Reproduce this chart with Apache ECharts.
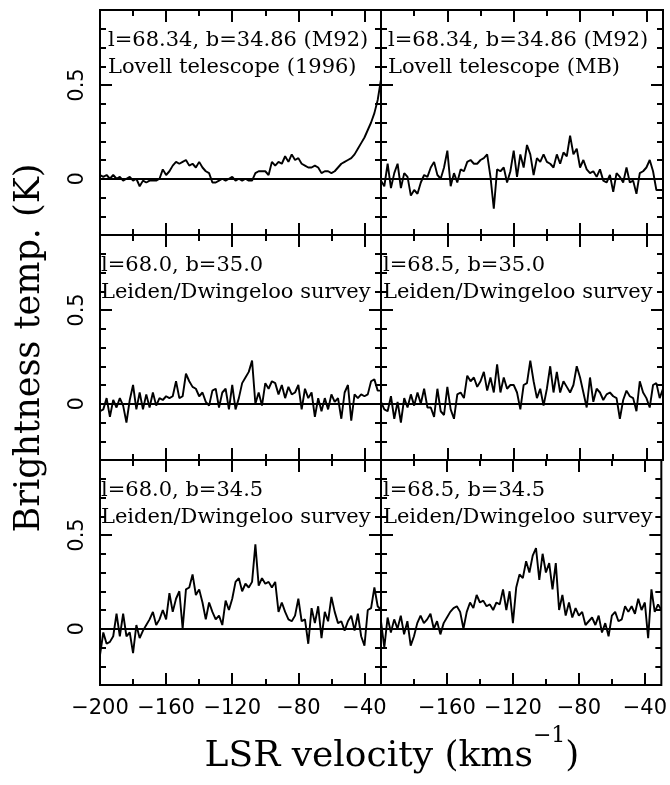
<!DOCTYPE html>
<html><head><meta charset="utf-8">
<script src="https://cdn.jsdelivr.net/npm/echarts@6/dist/echarts.min.js"></script>
<style>html,body{margin:0;padding:0;background:#fff}#c{width:670px;height:785px}</style>
</head><body><div id="c"></div>
<script>
// LSR velocity channels (km/s)
const velocity = [
-200,-198,-196,-194,-192,-190,-188,-186,-184,-182,
-180,-178,-176,-174,-172,-170,-168,-166,-164,-162,
-160,-158,-156,-154,-152,-150,-148,-146,-144,-142,
-140,-138,-136,-134,-132,-130,-128,-126,-124,-122,
-120,-118,-116,-114,-112,-110,-108,-106,-104,-102,
-100,-98,-96,-94,-92,-90,-88,-86,-84,-82,
-80,-78,-76,-74,-72,-70,-68,-66,-64,-62,
-60,-58,-56,-54,-52,-50,-48,-46,-44,-42,
-40,-38,-36,-34,-32,-30];

// Brightness temperature (K)
const lovell1996 = [
0.02,0.01,0.02,0.00,0.02,0.00,0.01,-0.01,0.00,0.01,
-0.01,0.00,-0.04,-0.01,-0.02,-0.01,-0.01,-0.01,0.00,0.05,
0.02,0.04,0.07,0.09,0.08,0.09,0.10,0.07,0.08,0.06,
0.09,0.06,0.04,0.03,-0.02,-0.02,-0.01,0.00,-0.01,0.00,
0.01,-0.01,0.00,-0.01,0.00,-0.01,-0.01,0.03,0.04,0.04,
0.04,0.02,0.09,0.07,0.09,0.08,0.12,0.09,0.13,0.10,
0.11,0.08,0.07,0.06,0.06,0.07,0.06,0.03,0.04,0.04,
0.03,0.04,0.06,0.08,0.09,0.10,0.11,0.13,0.16,0.19,
0.22,0.26,0.30,0.35,0.42,0.53];

const lovellMB = [
-0.01,-0.04,0.08,-0.05,0.03,0.08,-0.05,0.03,0.01,-0.09,
-0.06,-0.08,-0.02,0.02,0.01,0.06,0.09,0.02,0.00,0.06,
0.15,-0.04,0.03,-0.02,0.05,0.04,0.09,0.10,0.08,0.08,
0.10,0.11,0.13,0.01,-0.16,0.05,0.04,0.06,-0.02,0.04,
0.15,0.01,0.13,0.06,0.18,0.13,0.02,0.11,0.09,0.13,
0.09,0.08,0.06,0.13,0.08,0.14,0.12,0.23,0.13,0.16,
0.06,0.10,0.05,0.03,0.04,0.01,0.05,-0.01,-0.02,0.02,
-0.07,0.03,0.01,-0.02,0.06,-0.02,-0.01,-0.08,0.03,0.04,
0.06,0.10,0.04,-0.06,-0.06,-0.06];

const ld680_350 = [
-0.04,-0.03,0.03,-0.07,0.02,-0.02,0.03,-0.01,-0.10,0.02,
0.10,-0.03,0.06,-0.03,0.05,-0.02,0.06,-0.01,0.03,0.02,
0.04,0.03,0.04,0.12,0.03,0.04,0.16,0.12,0.09,0.08,
0.04,0.06,0.01,-0.01,0.07,0.08,-0.02,0.06,0.08,-0.03,
0.10,-0.03,0.03,0.11,0.14,0.17,0.23,0.00,0.06,-0.01,
0.11,0.08,0.12,0.11,0.05,0.10,0.03,0.09,0.05,0.06,
0.10,-0.03,0.08,0.03,0.06,-0.07,0.03,-0.04,0.03,-0.03,
0.05,0.01,0.03,-0.08,0.06,0.10,-0.09,0.05,0.03,0.05,
0.04,0.05,0.12,0.13,0.07,0.07];

const ld685_350 = [
0.01,-0.03,-0.04,0.04,-0.08,0.01,-0.10,0.03,-0.02,0.05,
-0.01,0.06,0.00,0.08,-0.02,-0.02,-0.07,0.08,-0.04,-0.06,
0.09,-0.03,-0.08,0.05,0.06,0.03,0.15,0.12,0.14,0.09,
0.12,0.17,0.07,0.14,0.06,0.21,0.06,0.14,0.08,0.10,
0.10,0.06,-0.03,0.10,0.11,0.23,0.12,0.03,0.08,-0.01,
0.08,0.20,0.06,0.17,0.06,0.12,0.09,0.06,0.10,0.20,
0.14,0.06,-0.02,0.14,0.01,0.08,0.06,0.02,0.05,0.06,
0.04,0.03,-0.08,0.02,0.07,0.04,0.03,-0.04,0.12,0.06,
0.03,-0.02,0.10,0.11,0.03,0.08];

const ld680_345 = [
-0.14,-0.02,-0.08,-0.07,-0.04,0.08,-0.04,0.08,-0.04,-0.02,
-0.13,0.02,-0.05,-0.01,0.02,0.05,0.09,0.02,0.05,0.10,
0.05,0.19,0.09,0.16,0.20,0.00,0.21,0.22,0.29,0.18,
0.21,0.14,0.05,0.14,0.09,0.05,0.07,0.02,0.15,0.10,
0.16,0.25,0.27,0.20,0.24,0.22,0.25,0.45,0.23,0.27,
0.24,0.25,0.22,0.25,0.09,0.14,0.09,0.05,0.04,0.07,
0.16,0.04,0.05,-0.08,0.11,0.03,0.12,-0.05,0.09,0.04,
0.17,0.09,0.03,0.04,-0.01,0.04,0.07,-0.01,0.08,-0.04,
-0.09,0.10,0.11,0.22,0.12,0.10];

const ld685_345 = [
0.04,-0.10,0.06,-0.02,0.05,0.00,0.07,-0.03,0.04,-0.09,
-0.04,0.03,0.07,0.03,0.05,0.08,0.00,0.04,-0.03,0.03,
0.06,0.09,0.11,0.12,0.09,0.00,0.09,0.14,0.11,0.18,
0.14,0.15,0.12,0.13,0.10,0.14,0.13,0.21,0.10,0.20,
0.03,0.22,0.29,0.27,0.36,0.30,0.39,0.43,0.26,0.40,
0.30,0.35,0.21,0.35,0.10,0.18,0.07,0.14,0.06,0.11,
0.07,0.09,0.02,0.04,0.06,0.02,0.07,-0.02,0.03,-0.04,
0.07,0.09,0.04,0.05,0.12,0.09,0.12,0.08,0.16,0.10,
0.14,-0.05,0.21,0.09,0.13,0.10];

// ticks and labels
const xMajorTicks = [-200,-160,-120,-80,-40];
const xMinorTicks = [-180,-140,-100,-60];
const yMajorTicks = [0, 0.5];
const yMinorTicks = [-0.2,-0.1,0.1,0.2,0.3,0.4,0.6,0.7,0.8];
const xLabelsLeft = [-200,-160,-120,-80,-40];
const xLabelsRight = [-160,-120,-80,-40];
const yLabels = [0, 0.5];

const panelLine1 = ['l=68.34, b=34.86 (M92)','l=68.34, b=34.86 (M92)','l=68.0, b=35.0','l=68.5, b=35.0','l=68.0, b=34.5','l=68.5, b=34.5'];
const panelLine2 = ['Lovell telescope (1996)','Lovell telescope (MB)','Leiden/Dwingeloo survey','Leiden/Dwingeloo survey','Leiden/Dwingeloo survey','Leiden/Dwingeloo survey'];
const xTitle = 'LSR velocity (kms';
const xTitleSup = '−1';
const yTitle = 'Brightness temp. (K)';

const panels = [lovell1996, lovellMB, ld680_350, ld685_350, ld680_345, ld685_345];

// layout
const colLeft = [100, 381], colW = [281, 282];
const rowTop = [10, 235, 460], rowH = 225;
const tickFont = 'DejaVu Sans';
const serif = 'DejaVu Serif';

const grids = [], xAxes = [], yAxes = [], series = [], graphics = [];
const fmt = v => String(v).replace('-', '\u2212');

panels.forEach((vals, g) => {
  const col = g % 2, row = Math.floor(g / 2);
  grids.push({left: colLeft[col], top: rowTop[row], width: colW[col], height: rowH,
    show: true, borderColor: '#000', borderWidth: 2, backgroundColor: 'transparent'});
  const mkX = (pos, ticks, len, labels) => ({
    gridIndex: g, type: 'value', min: -200, max: -30, position: pos,
    axisLine: {show: false, onZero: false}, splitLine: {show: false},
    axisTick: {show: true, inside: true, length: len, customValues: ticks, lineStyle: {color: '#000', width: 2}},
    axisLabel: labels ? {show: true, customValues: labels, formatter: fmt, color: '#000',
      fontSize: 21, fontFamily: tickFont, margin: 13} : {show: false}
  });
  xAxes.push(mkX('bottom', xMajorTicks, 12, row === 2 ? (col === 0 ? xLabelsLeft : xLabelsRight) : null));
  xAxes.push(mkX('bottom', xMinorTicks, 6, null));
  xAxes.push(mkX('top', xMajorTicks, 12, null));
  xAxes.push(mkX('top', xMinorTicks, 6, null));
  const mkY = (pos, ticks, len, labels) => ({
    gridIndex: g, type: 'value', min: -0.3, max: 0.9, position: pos,
    axisLine: {show: false, onZero: false}, splitLine: {show: false},
    axisTick: {show: true, inside: true, length: len, customValues: ticks, lineStyle: {color: '#000', width: 2}},
    axisLabel: labels ? {show: true, customValues: labels, formatter: v => String(v), rotate: 90,
      color: '#000', fontSize: 21, fontFamily: tickFont, margin: 12} : {show: false}
  });
  yAxes.push(mkY('left', yMajorTicks, 12, col === 0 ? yLabels : null));
  yAxes.push(mkY('left', yMinorTicks, 6, null));
  yAxes.push(mkY('right', yMajorTicks, 12, null));
  yAxes.push(mkY('right', yMinorTicks, 6, null));
  series.push({
    type: 'line', xAxisIndex: 4 * g, yAxisIndex: 4 * g,
    data: velocity.map((v, i) => [v, vals[i]]),
    showSymbol: false, symbol: 'none', clip: true,
    lineStyle: {color: '#000', width: 1.9}, z: 3,
    markLine: {silent: true, symbol: ['none', 'none'], label: {show: false},
      lineStyle: {color: '#000', width: 1.8, type: 'solid'}, data: [{yAxis: 0}]}
  });
  const tx = col === 0 ? (row === 0 ? 108 : 101) : (row === 0 ? 388 : 383);
  graphics.push({type: 'text', x: tx, y: rowTop[row] + 31, style: {text: panelLine1[g], fill: '#000',
    fontSize: 21, fontFamily: serif, align: 'left', verticalAlign: 'middle'}, z: 10});
  graphics.push({type: 'text', x: tx, y: rowTop[row] + 58, style: {text: panelLine2[g], fill: '#000',
    fontSize: 21, fontFamily: serif, align: 'left', verticalAlign: 'middle'}, z: 10});
});

graphics.push({type: 'text', x: 30, y: 348, rotation: Math.PI / 2,
  style: {text: yTitle, fill: '#000', fontSize: 35, fontFamily: serif, align: 'center', verticalAlign: 'middle'}});
graphics.push({type: 'text', x: 392, y: 750,
  style: {text: '{a|' + xTitle + '}{s|' + xTitleSup + '}{a|)}', fill: '#000', align: 'center', verticalAlign: 'middle',
    rich: {a: {fontSize: 36, fontFamily: serif, fill: '#000', verticalAlign: 'bottom', lineHeight: 50},
           s: {fontSize: 22, fontFamily: serif, fill: '#000', verticalAlign: 'top', lineHeight: 50}}}});

const chart = echarts.init(document.getElementById('c'), null, {renderer: 'canvas'});
chart.setOption({
  animation: false, backgroundColor: '#fff',
  grid: grids, xAxis: xAxes, yAxis: yAxes, series: series, graphic: graphics
});
</script></body></html>
